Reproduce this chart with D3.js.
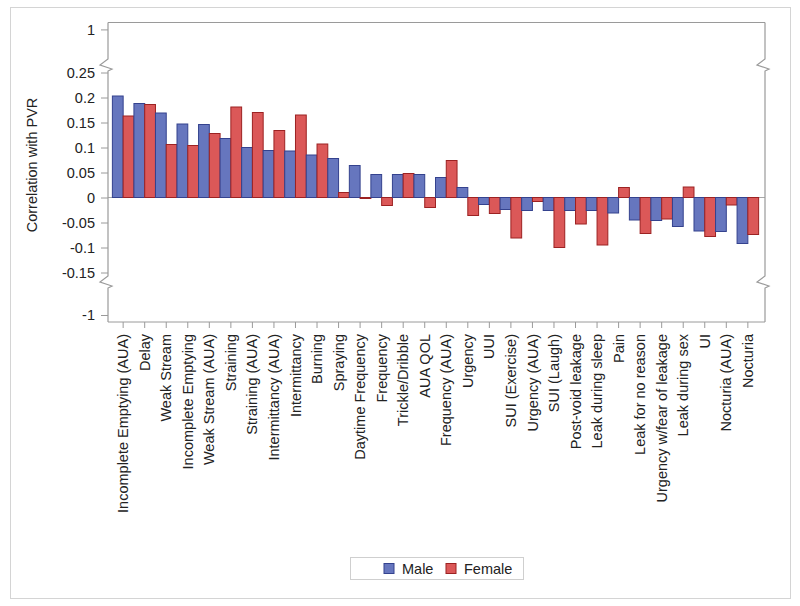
<!DOCTYPE html>
<html>
<head>
<meta charset="utf-8">
<script src="https://cdn.jsdelivr.net/npm/d3@7"></script>
<style>
  html, body { margin: 0; padding: 0; background: #fff; }
  text { font-family: "Liberation Sans", Arial, sans-serif; fill: #222; }
</style>
</head>
<body>
<svg id="chart" width="800" height="606"></svg>
<script>
const categories = [
  "Incomplete Emptying (AUA)", "Delay", "Weak Stream", "Incomplete Emptying",
  "Weak Stream (AUA)", "Straining", "Straining (AUA)", "Intermittancy (AUA)",
  "Intermittancy", "Burning", "Spraying", "Daytime Frequency", "Frequency",
  "Trickle/Dribble", "AUA QOL", "Frequency (AUA)", "Urgency", "UUI",
  "SUI (Exercise)", "Urgency (AUA)", "SUI (Laugh)", "Post-void leakage",
  "Leak during sleep", "Pain", "Leak for no reason", "Urgency w/fear of leakage",
  "Leak during sex", "UI", "Nocturia (AUA)", "Nocturia"
];
const seriesNames = ["Male", "Female"];
const maleValues = [
  0.203, 0.188, 0.169, 0.147, 0.146, 0.118, 0.100, 0.094,
  0.093, 0.085, 0.078, 0.064, 0.046, 0.046, 0.046, 0.040,
  0.020, -0.014, -0.024, -0.026, -0.026, -0.026, -0.026, -0.031,
  -0.045, -0.046, -0.058, -0.067, -0.068, -0.092
];
const femaleValues = [
  0.163, 0.186, 0.106, 0.104, 0.128, 0.181, 0.170, 0.134,
  0.165, 0.107, 0.010, -0.002, -0.016, 0.048, -0.020, 0.074,
  -0.036, -0.032, -0.081, -0.008, -0.100, -0.053, -0.095, 0.020,
  -0.072, -0.043, 0.021, -0.078, -0.015, -0.074
];
const yTickValues = [-1, -0.15, -0.1, -0.05, 0, 0.05, 0.1, 0.15, 0.2, 0.25, 1];
const yTitle = "Correlation with PVR";

const colors = {
  Male:   { fill: "#6676BE", stroke: "#34428E" },
  Female: { fill: "#DB5858", stroke: "#9C2222" }
};

const svg = d3.select("#chart");
const X0 = 108, X1 = 765, Y0 = 22.5, Y1 = 322;
const BRK_TOP = 65, BRK_BOT = 282;

// outer border
svg.append("rect").attr("x", 10.5).attr("y", 7.5).attr("width", 780).attr("height", 591)
  .attr("fill", "none").attr("stroke", "#d4d4d4");

// broken y scale (three segments)
const y = d3.scaleLinear()
  .domain([-1.014, -0.934, -0.169, 0.265, 0.928, 1.014])
  .range([Y1, BRK_BOT, BRK_BOT, BRK_TOP, BRK_TOP, Y0]);

const x = d3.scaleBand().domain(categories).range([107, 764]).paddingInner(0).paddingOuter(0.25);
const xs = d3.scaleBand().domain(seriesNames).range([0, x.bandwidth()]).padding(0);

const axisColor = "#9a9a9a";

// zero reference line
svg.append("line").attr("x1", X0).attr("x2", X1).attr("y1", y(0)).attr("y2", y(0))
  .attr("stroke", "#a8a8a8").attr("stroke-width", 1);

// bars
const rows = categories.map((c, i) => ({ cat: c, Male: maleValues[i], Female: femaleValues[i] }));
const g = svg.append("g");
const groups = g.selectAll("g.grp").data(rows).join("g")
  .attr("transform", d => `translate(${x(d.cat)},0)`);
groups.selectAll("rect").data(d => seriesNames.map(s => ({ s, v: d[s] }))).join("rect")
  .attr("x", d => xs(d.s))
  .attr("width", xs.bandwidth())
  .attr("y", d => Math.min(y(d.v), y(0)))
  .attr("height", d => Math.max(1, Math.abs(y(d.v) - y(0))))
  .attr("fill", d => colors[d.s].fill)
  .attr("stroke", d => colors[d.s].stroke)
  .attr("stroke-width", 1);

// frame: top and bottom lines
svg.append("line").attr("x1", X0).attr("x2", X1).attr("y1", Y0).attr("y2", Y0).attr("stroke", axisColor);
svg.append("line").attr("x1", X0).attr("x2", X1).attr("y1", Y1).attr("y2", Y1).attr("stroke", axisColor);

// vertical axis lines with break zigzags
function brokenAxis(xp) {
  const zig = b => `L${xp},${b - 6} L${xp - 8},${b} L${xp + 4},${b + 4} L${xp},${b + 6}`;
  const p = `M${xp},${Y0} ${zig(BRK_TOP)} ${zig(BRK_BOT)} L${xp},${Y1}`;
  svg.append("path").attr("d", p).attr("fill", "none").attr("stroke", axisColor).attr("stroke-width", 1.2);
}
brokenAxis(X0);
brokenAxis(X1);

// y axis ticks & labels
const yAxis = d3.axisLeft(y).tickValues(yTickValues).tickSize(7).tickPadding(6).tickFormat(d => String(d));
const ya = svg.append("g").attr("transform", `translate(${X0},0)`).call(yAxis);
ya.select(".domain").remove();
ya.selectAll(".tick line").attr("stroke", axisColor);
ya.selectAll(".tick text").style("font-size", "14.5px").attr("fill", "#222");

// x axis
const xAxis = d3.axisBottom(x).tickSize(6).tickPadding(6);
const xa = svg.append("g").attr("transform", `translate(0,${Y1})`).call(xAxis);
xa.select(".domain").remove();
xa.selectAll(".tick line").attr("stroke", axisColor);
xa.selectAll(".tick text")
  .style("font-size", "14.5px").attr("fill", "#222")
  .attr("text-anchor", "end")
  .attr("transform", "rotate(-90)")
  .attr("x", -12).attr("y", 0).attr("dy", "0.35em");

// y title
svg.append("text")
  .attr("transform", "translate(37,165) rotate(-90)")
  .attr("text-anchor", "middle")
  .style("font-size", "14.5px")
  .text(yTitle);

// legend
const lg = svg.append("g");
lg.append("rect").attr("x", 350.5).attr("y", 557.5).attr("width", 173).attr("height", 22)
  .attr("fill", "#fff").attr("stroke", "#cfcfcf");
const legendItems = [{ s: "Male", x: 384 }, { s: "Female", x: 446 }];
legendItems.forEach(it => {
  lg.append("rect").attr("x", it.x).attr("y", 563.5).attr("width", 10).attr("height", 10)
    .attr("fill", colors[it.s].fill).attr("stroke", colors[it.s].stroke);
  lg.append("text").attr("x", it.x + 18).attr("y", 574).style("font-size", "14.5px").text(it.s);
});
</script>
</body>
</html>
